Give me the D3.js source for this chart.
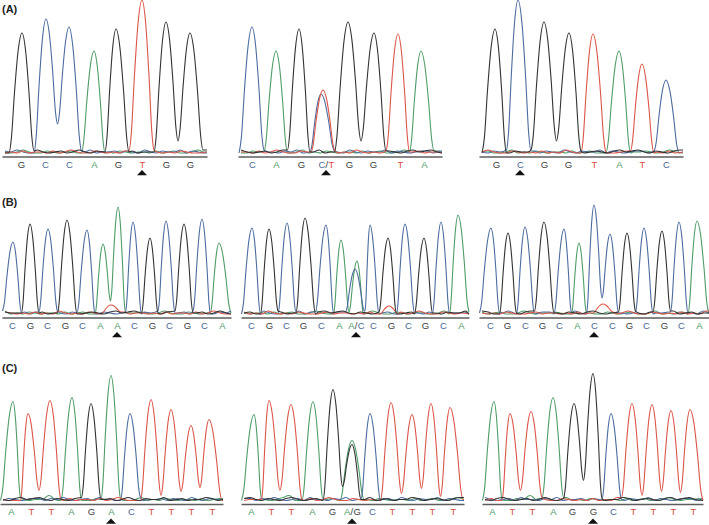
<!DOCTYPE html>
<html>
<head>
<meta charset="utf-8">
<script src="https://cdn.jsdelivr.net/npm/d3@7"></script>
<style>
  html, body { margin: 0; background: #fff; }
  svg { display: block; }
  .tick text { font-family: "Liberation Sans", Arial, sans-serif; font-size: 9.5px; letter-spacing: .2px; }
  .tag { font-family: "Liberation Sans", Arial, sans-serif; font-size: 11px; font-weight: bold; fill: #222; }
  .trace { fill: none; stroke-width: 1.1; stroke-linejoin: round; }
</style>
</head>
<body>
<svg id="chart" width="709" height="525"></svg>
<script>
// called bases, peak scans, peak signals, valley to next peak (0 = next base differs), label scans
// extras are [base, scan, signal, half width]: second allele peaks and the small bumps
const a1Bases = ["G", "C", "C", "A", "G", "T", "G", "G"];
const a1Scan = [20, 44, 67, 92, 114, 140, 164, 188];
const a1Signal = [120, 134, 126, 102, 124, 153, 131, 120];
const a1Valley = [0, 29, 0, 0, 0, 0, 12];
const a1Labels = [19, 43, 67, 92, 116, 140, 164, 188];
const a1Extra = [];

const a2Bases = ["C", "A", "G", "C", "G", "G", "T", "A"];
const a2Scan = [14, 38, 61, 83, 110, 136, 160, 183];
const a2Signal = [126, 102, 124, 59, 131, 120, 119, 102];
const a2Valley = [0, 0, 0, 0, 12, 0, 0];
const a2Labels = [14, 38, 63, 88, 111, 135, 162, 186];
const a2Extra = [["T", 85, 63, 12]];

const a3Bases = ["G", "C", "G", "G", "T", "A", "T", "C"];
const a3Scan = [16, 39, 65, 90, 114, 140, 163, 187];
const a3Signal = [124, 153, 131, 120, 119, 102, 89, 73];
const a3Valley = [0, 0, 12, 0, 0, 0, 0];
const a3Labels = [17, 41, 65, 89, 115, 140, 163, 187];
const a3Extra = [];

const b1Bases = ["C", "G", "C", "G", "C", "A", "A", "C", "G", "C", "G", "C", "A"];
const b1Scan = [11, 28, 46, 65, 85, 101, 116, 131, 148, 164, 182, 200, 217];
const b1Signal = [72, 90, 85, 94, 84, 70, 107, 92, 76, 93, 90, 95, 71];
const b1Valley = [0, 0, 0, 0, 0, 13, 0, 0, 0, 0, 0, 0];
const b1Labels = [10, 28, 45, 63, 80, 98, 115, 132, 150, 167, 185, 202, 220];
const b1Extra = [["T", 109, 9, 10]];

const b2Bases = ["C", "G", "C", "G", "C", "A", "A", "C", "G", "C", "G", "C", "A"];
const b2Scan = [11, 28, 46, 64, 85, 100, 116, 129, 147, 164, 183, 200, 217];
const b2Signal = [86, 85, 91, 96, 89, 74, 53, 89, 76, 90, 76, 92, 99];
const b2Valley = [0, 0, 0, 0, 0, 2, 0, 0, 0, 0, 0, 0];
const b2Labels = [10, 28, 45, 62, 80, 98, 115, 132, 150, 167, 184, 202, 220];
const b2Extra = [["C", 114, 45, 9.5], ["T", 148, 8, 9]];

const b3Bases = ["C", "G", "C", "G", "C", "A", "C", "C", "G", "C", "G", "C", "A"];
const b3Scan = [12, 29, 46, 65, 85, 100, 115, 131, 148, 165, 183, 200, 218];
const b3Signal = [86, 81, 87, 92, 85, 71, 109, 80, 81, 86, 83, 92, 93];
const b3Valley = [0, 0, 0, 0, 0, 0, 16, 0, 0, 0, 0, 0];
const b3Labels = [11, 28, 46, 63, 80, 98, 115, 133, 150, 167, 185, 202, 220];
const b3Extra = [["T", 124, 10, 10]];

const c1Bases = ["A", "T", "T", "A", "G", "A", "C", "T", "T", "T", "T"];
const c1Scan = [13, 28, 50, 72, 91, 111, 130, 151, 171, 191, 209];
const c1Signal = [99, 87, 100, 103, 97, 125, 87, 101, 91, 75, 81];
const c1Valley = [0, 10, 0, 0, 0, 0, 0, 5, 9, 13];
const c1Labels = [11, 31, 51, 71, 91, 111, 131, 151, 171, 191, 212];
const c1Extra = [["A", 49, 5, 6]];

const c2Bases = ["A", "T", "T", "A", "G", "G", "C", "T", "T", "T", "T"];
const c2Scan = [13, 28, 50, 72, 92, 111, 129, 150, 171, 190, 209];
const c2Signal = [86, 100, 96, 99, 111, 56, 87, 98, 86, 97, 93];
const c2Valley = [0, 10, 0, 0, 14, 0, 0, 7, 12, 4];
const c2Labels = [10, 30, 50, 71, 91, 111, 131, 151, 171, 191, 212];
const c2Extra = [["A", 111, 60, 12], ["A", 48, 5, 6]];

const c3Bases = ["A", "T", "T", "A", "G", "G", "C", "T", "T", "T", "T"];
const c3Scan = [12, 28, 49, 71, 92, 111, 129, 150, 170, 189, 208];
const c3Signal = [99, 87, 89, 103, 97, 127, 87, 97, 96, 90, 91];
const c3Valley = [0, 10, 0, 0, 20, 0, 0, 5, 9, 8];
const c3Labels = [10, 30, 50, 71, 90, 111, 131, 151, 171, 191, 211];
const c3Extra = [["A", 48, 5, 6]];

// low level signal under the peaks, one reading every 6 scans
const noiseG = [1, 0, 2, 1, 0, 2, 3, 1, 0, 1, 2, 0, 1, 3, 1, 0, 2, 1, 1, 3, 0, 1, 2, 0, 1, 1, 3, 2, 0, 1, 2, 1, 0, 2, 3, 1, 2, 3];
const noiseC = [0, 2, 1, 3, 1, 0, 1, 2, 0, 3, 1, 1, 0, 2, 1, 3, 0, 1, 1, 2, 0, 2, 1, 0, 3, 1, 0, 2, 1, 1, 3, 0, 2, 1, 0, 1, 2, 2];
const noiseA = [2, 1, 0, 1, 3, 1, 0, 0, 2, 1, 0, 1, 2, 0, 0, 1, 3, 0, 1, 0, 2, 1, 0, 1, 1, 0, 2, 0, 1, 2, 0, 0, 1, 3, 1, 0, 1, 1];
const noiseT = [1, 0, 1, 0, 2, 0, 1, 1, 0, 2, 0, 1, 3, 1, 0, 0, 2, 1, 0, 1, 0, 2, 0, 1, 0, 3, 1, 0, 1, 0, 2, 1, 0, 0, 1, 2, 0, 1];

// flank of a peak: distance from apex (share of flank), height (share of peak)
const flankAt = [0.3, 0.58, 0.82];
const flankHeight = [0.85, 0.5, 0.12];

const baseColor = { G: "#333333", C: "#4c6c9f", A: "#4f9c68", T: "#dc5549" };
const labelColor = { G: "#3c3c3c", C: "#4a6595", A: "#4c9a66", T: "#d64c41", "/": "#3c3c3c" };
const noise = { G: noiseG, C: noiseC, A: noiseA, T: noiseT };

const panels = [
  { tag: "(A)", x: [2, 207], row: 0, mark: 5, bases: a1Bases, scan: a1Scan, signal: a1Signal, valley: a1Valley, labels: a1Labels, extra: a1Extra },
  { x: [238, 442], row: 0, mark: 3, text: { 3: "C/T" }, bases: a2Bases, scan: a2Scan, signal: a2Signal, valley: a2Valley, labels: a2Labels, extra: a2Extra },
  { x: [479, 683], row: 0, mark: 1, bases: a3Bases, scan: a3Scan, signal: a3Signal, valley: a3Valley, labels: a3Labels, extra: a3Extra },
  { tag: "(B)", x: [2, 231], row: 1, mark: 6, bases: b1Bases, scan: b1Scan, signal: b1Signal, valley: b1Valley, labels: b1Labels, extra: b1Extra },
  { x: [241, 469], row: 1, mark: 6, text: { 6: "A/C" }, bases: b2Bases, scan: b2Scan, signal: b2Signal, valley: b2Valley, labels: b2Labels, extra: b2Extra },
  { x: [479, 709], row: 1, mark: 6, bases: b3Bases, scan: b3Scan, signal: b3Signal, valley: b3Valley, labels: b3Labels, extra: b3Extra },
  { tag: "(C)", x: [0, 223], row: 2, mark: 5, bases: c1Bases, scan: c1Scan, signal: c1Signal, valley: c1Valley, labels: c1Labels, extra: c1Extra },
  { x: [241, 464], row: 2, mark: 5, text: { 5: "A/G" }, bases: c2Bases, scan: c2Scan, signal: c2Signal, valley: c2Valley, labels: c2Labels, extra: c2Extra },
  { x: [482, 703], row: 2, mark: 5, bases: c3Bases, scan: c3Scan, signal: c3Signal, valley: c3Valley, labels: c3Labels, extra: c3Extra }
];

// y of the trace baseline, the axis, and the triangle for each row
const rowBase = [153, 314, 500.5];
const rowAxis = [156.5, 317.5, 504];
const rowMark = [173.5, 335.5, 522];
const rowTag = [13, 206, 372];

var svg = d3.select("#chart");

// walks one dye along the run: noise, foot, apex, valley or foot, noise again
function tracePoints(p, base, phase, width) {
  var peaks = [];
  p.bases.forEach(function(b, i) {
    if (b != base) return;
    var prev = i > 0 ? (p.scan[i - 1] + p.scan[i]) / 2 : Math.max(p.scan[i] - 13, 0);
    var next = i < p.bases.length - 1 ? (p.scan[i + 1] + p.scan[i]) / 2 : Math.min(p.scan[i] + 13, width);
    peaks.push({
      scan: p.scan[i], signal: p.signal[i], left: prev, right: next,
      joinPrev: i > 0 && p.valley[i - 1] > 0,
      valley: i < p.valley.length ? p.valley[i] : 0
    });
  });
  p.extra.forEach(function(e) {
    if (e[0] != base) return;
    peaks.push({ scan: e[1], signal: e[2], left: e[1] - e[3], right: e[1] + e[3], joinPrev: false, valley: 0 });
  });
  peaks.sort(function(a, b) { return a.scan - b.scan; });

  var list = noise[base];
  var readAt = function(s) { return list[(Math.round(s / 6) + phase) % list.length]; };
  var pts = [];
  var cursor = 0;
  function fill(to) {
    for (var s = cursor + 3; s < to - 2; s += 6) pts.push([s, readAt(s)]);
  }
  function flank(k, footScan, footSignal) {
    return flankAt.map(function(u, j) {
      return [k.scan + (footScan - k.scan) * u, footSignal + (k.signal - footSignal) * flankHeight[j]];
    });
  }
  var last = null;
  peaks.forEach(function(k, n) {
    if (k.joinPrev) {
      flank(k, last[0], last[1]).reverse().forEach(function(q) { pts.push(q); });
    } else {
      fill(k.left);
      var foot = [Math.max(k.left, cursor + 0.5), 0];
      foot[1] = readAt(foot[0]);
      pts.push(foot);
      flank(k, foot[0], foot[1]).reverse().forEach(function(q) { pts.push(q); });
    }
    pts.push([k.scan, k.signal]);
    var end = k.valley > 0
      ? [(k.scan + peaks[n + 1].scan) / 2, k.valley]
      : [k.right, readAt(k.right)];
    flank(k, end[0], end[1]).forEach(function(q) { pts.push(q); });
    pts.push(end);
    last = end;
    if (k.valley == 0) cursor = k.right;
  });
  fill(width);
  pts.push([width, readAt(width)]);
  return pts;
}

panels.forEach(function(p, idx) {
  var width = p.x[1] - p.x[0];
  var x = d3.scaleLinear().domain([0, width]).range(p.x);
  var y = d3.scaleLinear().domain([0, 160]).range([rowBase[p.row], rowBase[p.row] - 160]);
  var line = d3.line()
    .x(function(d) { return x(d[0]); })
    .y(function(d) { return y(d[1]); })
    .curve(d3.curveMonotoneX);

  var g = svg.append("g");

  ["A", "C", "T", "G"].forEach(function(base) {
    g.append("path")
      .attr("class", "trace")
      .attr("stroke", baseColor[base])
      .attr("d", line(tracePoints(p, base, idx * 5, width)));
  });

  var axis = d3.axisBottom(x)
    .tickValues(p.labels)
    .tickSize(0)
    .tickPadding(4.5)
    .tickFormat(function(d, i) { return i; });

  var ax = g.append("g")
    .attr("transform", "translate(0," + rowAxis[p.row] + ")")
    .call(axis);
  ax.select(".domain").attr("stroke", "#5c5c5c").attr("stroke-width", 1.5);
  ax.selectAll(".tick text").each(function(d, i) {
    var name = (p.text && p.text[i]) || p.bases[i];
    var t = d3.select(this).text(null);
    name.split("").forEach(function(ch) {
      t.append("tspan").attr("fill", labelColor[ch]).text(ch);
    });
  });

  g.append("path")
    .attr("d", d3.symbol(d3.symbolTriangle, 43.3)())
    .attr("fill", "#111")
    .attr("transform", "translate(" + x(p.labels[p.mark]) + "," + rowMark[p.row] + ") scale(1,.6)");

  if (p.tag) {
    svg.append("text").attr("class", "tag").attr("x", 2).attr("y", rowTag[p.row]).text(p.tag);
  }
});
</script>
</body>
</html>
